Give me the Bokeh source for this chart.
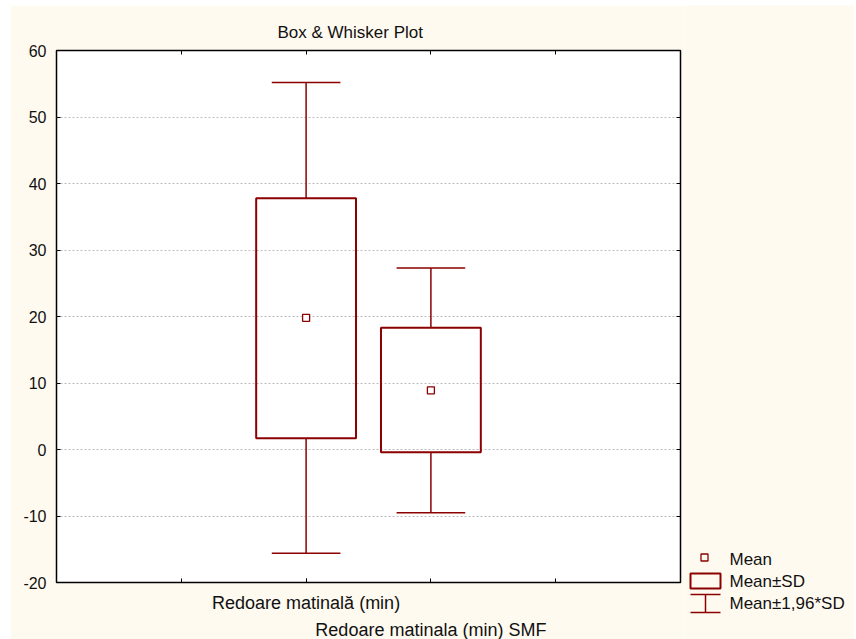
from bokeh.plotting import figure
from bokeh.models import Range1d, FixedTicker, LinearAxis, ColumnDataSource
from bokeh.transform import dodge
from bokeh.layouts import row
from bokeh.core.properties import value
from bokeh.embed import file_html
from bokeh.resources import INLINE

# ---- data ----
categories = ["Redoare matinală (min)", "Redoare matinala (min) SMF"]
cat_pos = [2, 3]
means = [19.8, 8.9]            # Mean
box_lo = [1.7, -0.4]           # Mean - SD
box_hi = [37.8, 18.3]          # Mean + SD
whisk_lo = [-15.6, -9.5]       # Mean - 1.96*SD
whisk_hi = [55.2, 27.3]        # Mean + 1.96*SD
y_ticks = [-20, -10, 0, 10, 20, 30, 40, 50, 60]
y_tick_labels = ["-20", "-10", "0", "10", "20", "30", "40", "50", "60"]
x_minor_ticks = [1, 2, 3, 4]
legend_labels = ["Mean", "Mean±SD", "Mean±1,96*SD"]
title_text = "Box & Whisker Plot"

RED = "#8b0000"
BG = "#fffaf0"
FONT = "Liberation Sans"
TXT = "#111111"

src = ColumnDataSource(dict(x=cat_pos, mean=means, lo=box_lo, hi=box_hi,
                            wlo=whisk_lo, whi=whisk_hi))

p = figure(frame_width=624, frame_height=532,
           x_range=Range1d(0, 5), y_range=Range1d(-20, 60),
           output_backend="svg", toolbar_location=None,
           min_border_left=46, min_border_top=45, min_border_bottom=57,
           min_border_right=4,
           background_fill_color="white", border_fill_color=BG,
           outline_line_color="black", outline_line_width=1.5,
           title=title_text)
p.frame_align = False

p.title.text_font = FONT
p.title.text_font_size = "17px"
p.title.text_font_style = "normal"
p.title.text_color = TXT
p.title.align = "left"
p.title.offset = 221
p.title.standoff = 18

# grid
p.xgrid.visible = False
p.ygrid.ticker = FixedTicker(ticks=y_ticks)
p.ygrid.grid_line_color = "#bdbdbd"
p.ygrid.grid_line_dash = "2 2"
p.ygrid.grid_line_width = 1

# left axis
ya = p.yaxis[0]
ya.ticker = FixedTicker(ticks=y_ticks)
ya.major_label_overrides = dict(zip(y_ticks, y_tick_labels))
ya.major_tick_in = 4
ya.major_tick_out = 0
ya.minor_tick_line_color = None
ya.axis_line_color = None
ya.major_tick_line_color = "black"
ya.major_label_text_font = FONT
ya.major_label_text_font_size = "16px"
ya.major_label_text_color = TXT
ya.major_label_standoff = 10

# bottom axis 1: first category label, inner ticks at every division
xa = p.xaxis[0]
xa.ticker = FixedTicker(ticks=[cat_pos[0]], minor_ticks=x_minor_ticks)
xa.major_label_overrides = {cat_pos[0]: categories[0]}
xa.major_tick_in = 4
xa.major_tick_out = 0
xa.minor_tick_in = 4
xa.minor_tick_out = 0
xa.minor_tick_line_color = "black"
xa.axis_line_color = None
xa.major_tick_line_color = "black"
xa.major_label_text_font = FONT
xa.major_label_text_font_size = "18px"
xa.major_label_text_color = TXT
xa.major_label_standoff = 10

# bottom axis 2: second category label, staggered
xa2 = LinearAxis(ticker=FixedTicker(ticks=[cat_pos[1]]),
                 major_label_overrides={cat_pos[1]: categories[1]},
                 major_tick_in=0, major_tick_out=0,
                 minor_tick_line_color=None, axis_line_color=None,
                 major_tick_line_color=None,
                 major_label_text_font=FONT, major_label_text_font_size="18px",
                 major_label_text_color=TXT, major_label_standoff=4)
p.add_layout(xa2, "below")

# top and right axes: inner ticks only (minor ticks, no labels)
for loc, ticks in (("above", x_minor_ticks), ("right", y_ticks)):
    ax = LinearAxis(ticker=FixedTicker(ticks=[], minor_ticks=ticks),
                    major_tick_in=0, major_tick_out=0,
                    minor_tick_in=4, minor_tick_out=0,
                    axis_line_color=None, major_tick_line_color=None,
                    minor_tick_line_color="black", major_label_standoff=0)
    p.add_layout(ax, loc)

# boxes (Mean ± SD)
p.vbar(x="x", width=0.8, bottom="lo", top="hi", source=src,
       fill_color=None, line_color=RED, line_width=2)
# whisker stems
p.segment(x0="x", y0="hi", x1="x", y1="whi", source=src, line_color=RED, line_width=1.5)
p.segment(x0="x", y0="lo", x1="x", y1="wlo", source=src, line_color=RED, line_width=1.5)
# whisker caps
p.segment(x0=dodge("x", -0.275, range=p.x_range), y0="whi",
          x1=dodge("x", 0.275, range=p.x_range), y1="whi",
          source=src, line_color=RED, line_width=1.5)
p.segment(x0=dodge("x", -0.275, range=p.x_range), y0="wlo",
          x1=dodge("x", 0.275, range=p.x_range), y1="wlo",
          source=src, line_color=RED, line_width=1.5)
# means
p.scatter(x="x", y="mean", source=src, marker="square", size=7,
          fill_color="white", line_color=RED, line_width=1.3)

# ---- legend panel (its own pixel coordinate system) ----
X0 = 684
LW = 170
lg = figure(width=LW, height=634, x_range=Range1d(X0, X0 + LW),
            y_range=Range1d(639, 5), output_backend="svg",
            toolbar_location=None, min_border=0,
            background_fill_color=BG, border_fill_color=BG,
            outline_line_color=None)
lg.frame_align = False
lg.axis.visible = False
lg.grid.visible = False

lg.scatter(x=[704], y=[557], marker="square", size=7, fill_color=None,
           line_color=RED, line_width=1.3)
lg.quad(left=[690], right=[720], top=[573], bottom=[588], fill_color=None,
        line_color=RED, line_width=2)
lg.segment(x0=[690, 705, 690], y0=[594, 594, 612], x1=[720, 705, 720],
           y1=[594, 612, 612], line_color=RED, line_width=1.5)
lg.text(x=[729, 729, 729], y=[559, 581, 603], text=legend_labels,
        text_font=value(FONT), text_font_size="17px", text_baseline="middle",
        text_color=TXT)

layout = row(p, lg, margin=(5, 0, 0, 10))
open("out.html", "w").write(file_html(layout, INLINE))
